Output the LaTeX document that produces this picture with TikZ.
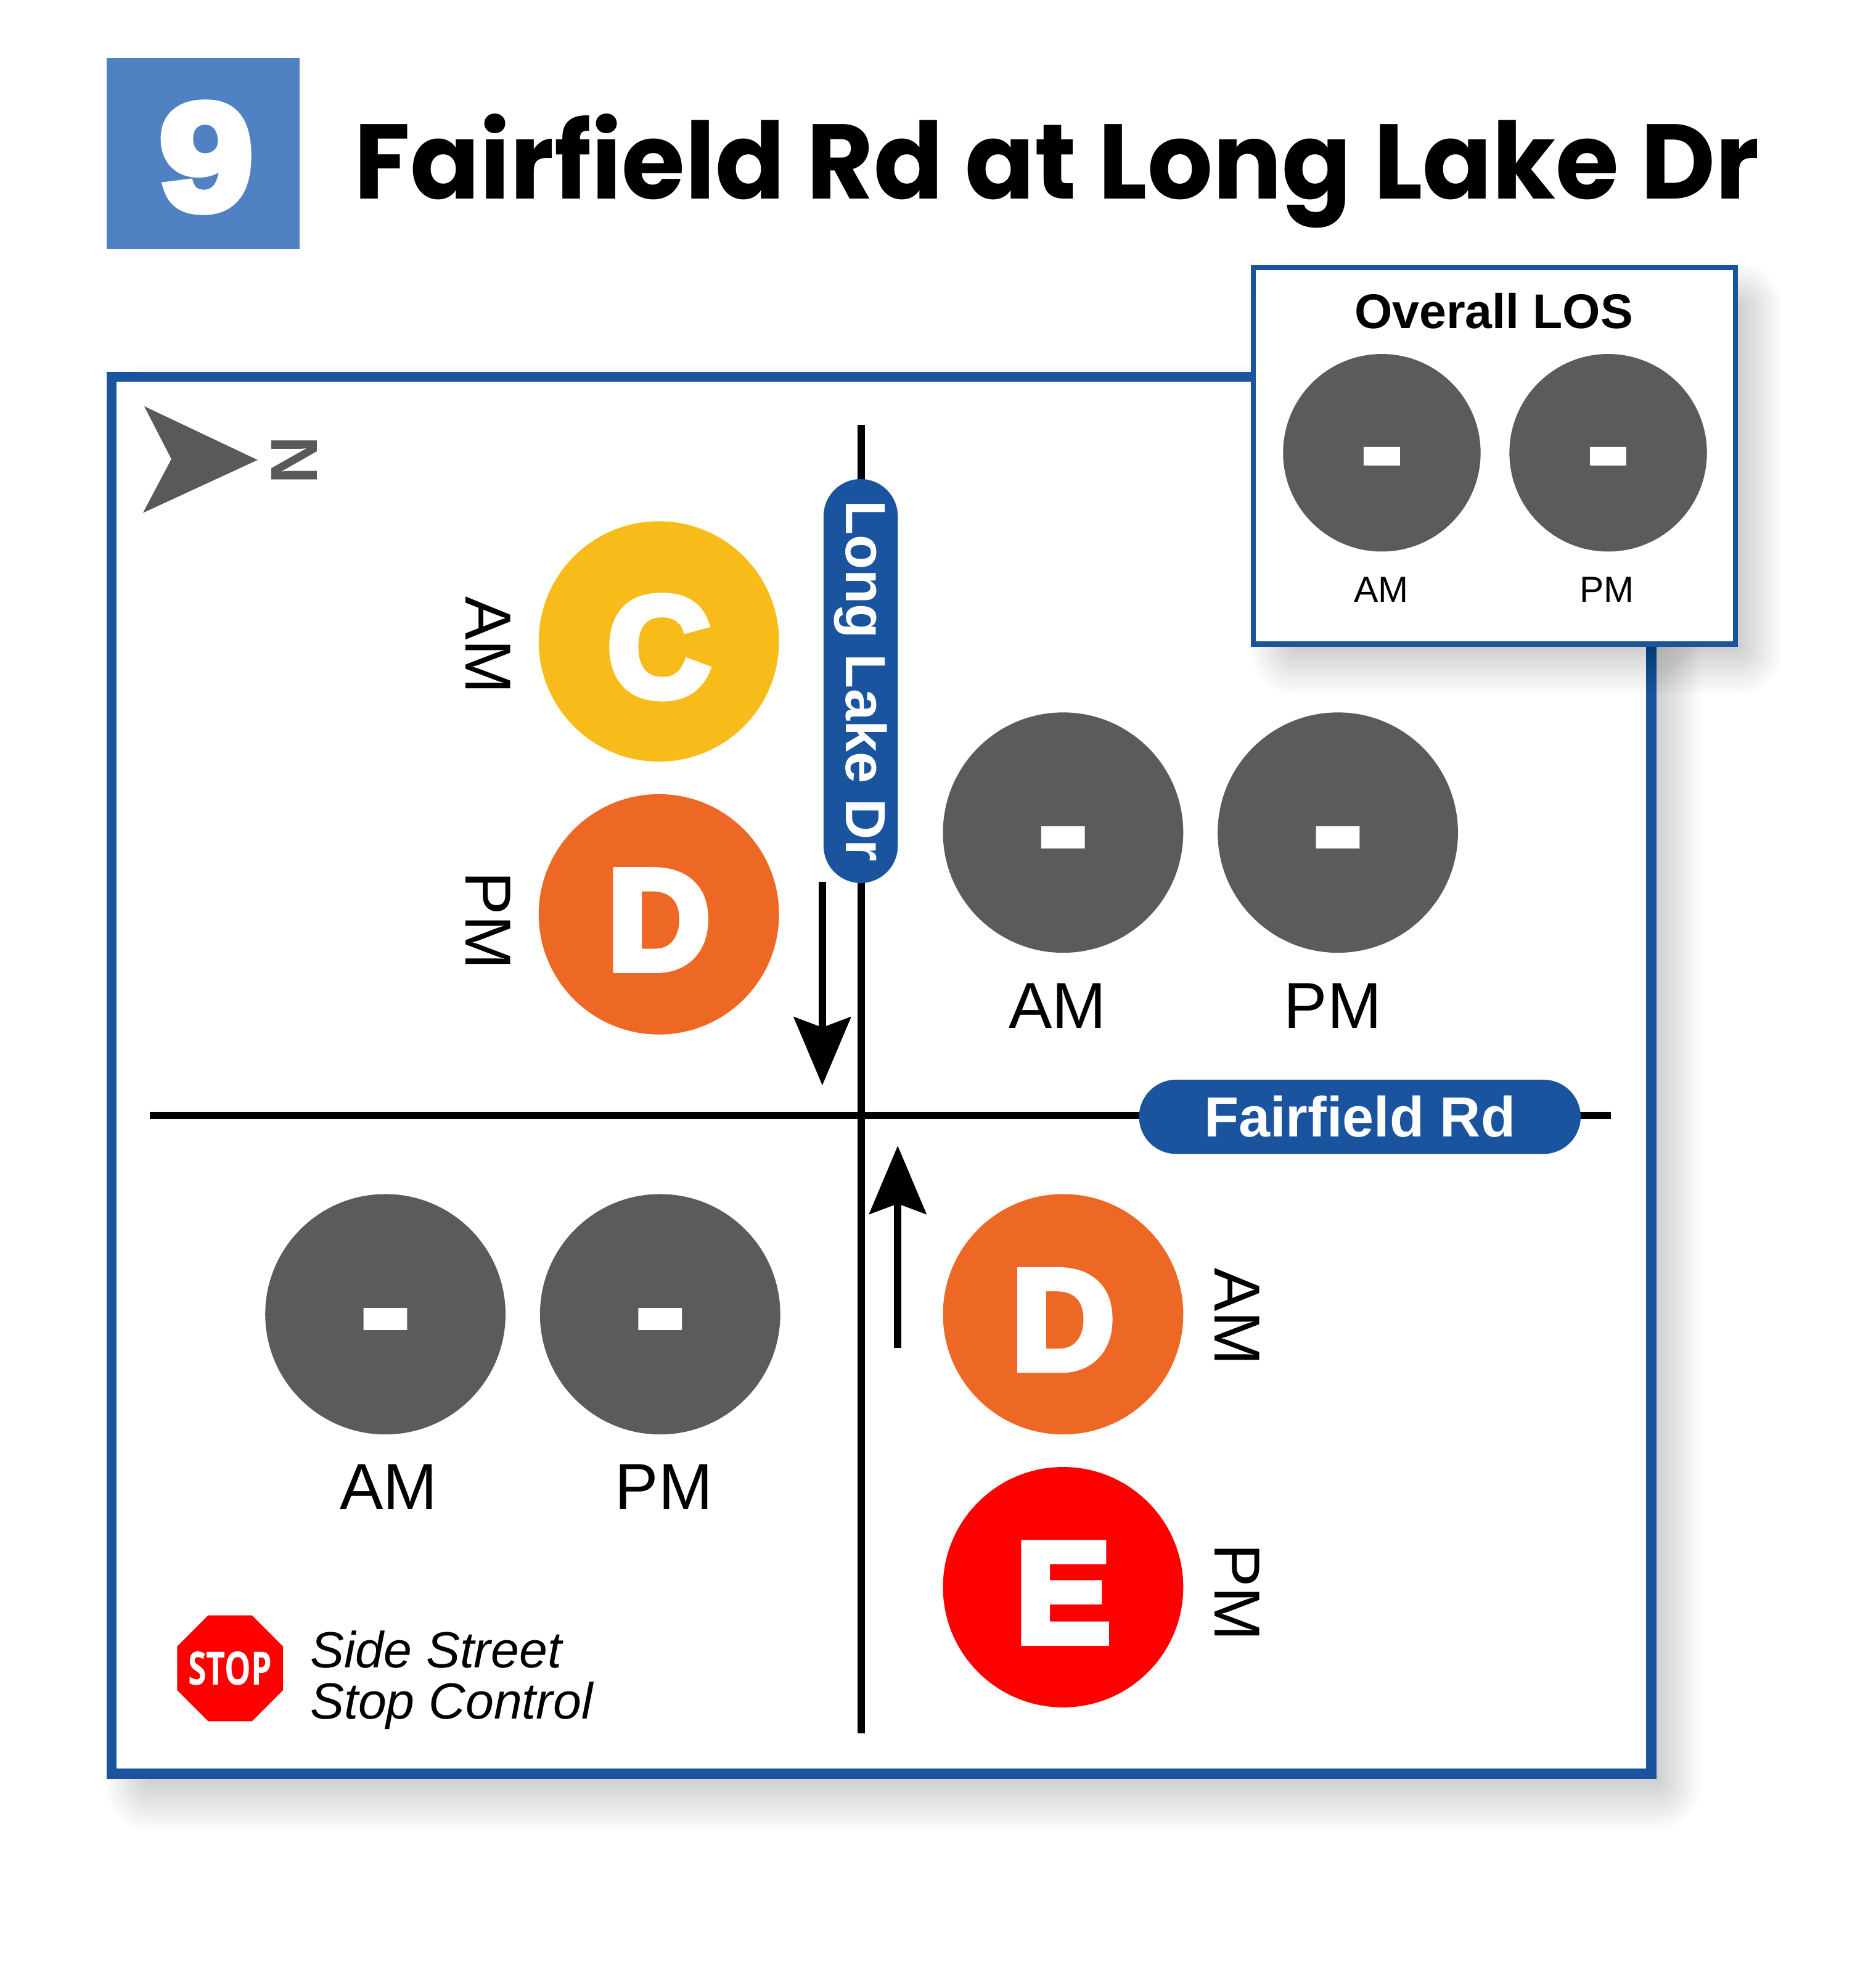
\documentclass[tikz,border=0pt]{standalone}
\usepackage{fontspec}
\usetikzlibrary{arrows.meta,shapes.geometric}
\setmainfont{Liberation Sans}
\newfontfamily\titlefont[FakeStretch=0.968]{Poppins}
\newfontfamily\gradefont[UprightFont=* Bold,FakeBold=6]{Liberation Sans}
\newfontfamily\numberfont[UprightFont=* Bold,FakeBold=6,FakeStretch=1.12]{Liberation Sans}
\newfontfamily\dashfont[UprightFont=* Bold,FakeBold=2]{Liberation Sans}
\newfontfamily\stopfont[FakeStretch=0.72]{Open Sans}
\newcommand{\fsz}[1]{\fontsize{#1}{#1}\selectfont}
\definecolor{roadblue}{HTML}{1A549F}
\definecolor{headblue}{HTML}{5082C3}
\definecolor{losgray}{HTML}{5C5B59}
\definecolor{loscyellow}{HTML}{F7BC19}
\definecolor{losorange}{HTML}{EE6825}
\definecolor{northgray}{HTML}{58595B}
\tikzset{
    grade/.style={circle, inner sep=0pt, minimum size=1.91cm, text=white, text height=24.6pt, text depth=0pt, font=\gradefont\fsz{32}},
    gradedash/.style={circle, inner sep=0pt, minimum size=1.91cm, fill=losgray, text=white, text height=20.8pt, text depth=0pt, font=\dashfont\fsz{36}},
    gradesmall/.style={circle, inner sep=0pt, minimum size=1.57cm, fill=losgray, text=white, text height=17.1pt, text depth=0pt, font=\dashfont\fsz{30}},
    period/.style={inner sep=0pt, font=\fsz{14.7}},
    periodside/.style={period, rotate=-90},
    periodsmall/.style={inner sep=0pt, font=\fsz{8.2}},
    road/.style={line width=0.6mm, black},
    roadname/.style={fill=roadblue, text=white, inner sep=0pt, font=\bfseries\fsz{12.8}, rounded corners=2.95mm, minimum height=0.59cm},
    travel/.style={line width=0.6mm, -{Stealth[length=15.4pt, width=12.8pt, inset=2.3pt]}},
    softshadow/.style={black, opacity=0.0075}
}
\begin{document}
\begin{tikzpicture}[x=0.01cm, y=-0.01cm]
    \useasboundingbox (0, 0) rectangle (1492, 1568);

    % heading
    \node[fill=headblue, minimum width=1.53cm, minimum height=1.52cm, inner sep=0pt] (number) at (161.5, 122) {};
    \node[inner sep=0pt, text=white, font=\numberfont\fsz{34}] (numbertext) at (164, 125) {9};
    \node[anchor=base west, inner sep=0pt, font=\titlefont\bfseries\fsz{24}] (title) at (281, 158)
        {Fairfield Rd at Long Lake Dr};

    % frame with its shadow
    \foreach \s in {1,...,24}
        \fill[softshadow, rounded corners=0.15mm*\s]
            ({120-1.5*\s}, {325-1.5*\s}) rectangle ({1317+1.5*\s}, {1414+1.75*\s});
    \node[draw=roadblue, fill=white, line width=0.8mm, minimum width=12.24cm, minimum height=11.10cm,
          inner sep=0pt] (frame) at (701, 855) {};

    % north arrow
    \fill[northgray] (114.7, 323) -- (204.9, 365.7) -- (113.7, 407.8) -- (136.3, 365) -- cycle;
    \node[rotate=-90, inner sep=0pt, text=northgray, font=\bfseries\fsz{15}] (north) at (234, 366) {N};

    % roads
    \coordinate (roadN) at (685, 338);
    \coordinate (roadS) at (685, 1378);
    \coordinate (roadW) at (119, 887);
    \coordinate (roadE) at (1281, 887);
    \draw[road] (roadN) -- (roadS);
    \draw[road] (roadW) -- (roadE);
    \node[roadname, minimum width=3.21cm, rotate=-90] (longlake) at (684.5, 541.5) {Long Lake Dr};
    \node[roadname, minimum width=3.51cm] (fairfield) at (1081.5, 888) {Fairfield Rd};

    % travel direction
    \coordinate (southA) at (654, 701);
    \coordinate (southB) at (654, 863);
    \coordinate (northA) at (714, 1072);
    \coordinate (northB) at (714, 911);
    \draw[travel] (southA) -- (southB);
    \draw[travel] (northA) -- (northB);

    % north leg
    \node[grade, fill=loscyellow] (northAM) at (524, 510) {C};
    \node[grade, fill=losorange] (northPM) at (524, 727) {D};
    \node[periodside] (labelNA) at (388, 513) {AM};
    \node[periodside] (labelNP) at (388, 732) {PM};

    % east leg
    \node[gradedash] (eastAM) at (845.5, 662) {-};
    \node[gradedash] (eastPM) at (1064, 662) {-};
    \node[period] (labelEA) at (841, 800) {AM};
    \node[period] (labelEP) at (1060, 800) {PM};

    % west leg
    \node[gradedash] (westAM) at (306.5, 1045) {-};
    \node[gradedash] (westPM) at (525, 1045) {-};
    \node[period] (labelWA) at (309, 1182) {AM};
    \node[period] (labelWP) at (528, 1182) {PM};

    % south leg
    \node[grade, fill=losorange] (southAM) at (845.5, 1045) {D};
    \node[grade, fill=red] (southPM) at (845.5, 1262) {E};
    \node[periodside] (labelSA) at (984, 1047) {AM};
    \node[periodside] (labelSP) at (984, 1266) {PM};

    % legend
    \node[regular polygon, regular polygon sides=8, fill=red, minimum size=0.91cm, inner sep=0pt,
          text=white, font=\stopfont\bfseries\fsz{10.4}] (stop) at (183, 1326.5) {\makebox[0pt]{STOP}};
    \node[anchor=west, align=left, inner sep=0pt, font=\itshape\fsz{11.5}] (legend) at (246, 1336)
        {Side Street\\Stop Control};

    % overall box with its shadow
    \foreach \s in {1,...,24}
        \fill[softshadow, rounded corners=0.15mm*\s]
            ({1030-1.5*\s}, {245-1.5*\s}) rectangle ({1382+1.5*\s}, {514+1.6*\s});
    \node[draw=roadblue, fill=white, line width=0.4mm, minimum width=3.83cm, minimum height=2.99cm,
          inner sep=0pt] (overall) at (1188.5, 362.5) {};
    \node[inner sep=0pt, font=\bfseries\fsz{11}] (overallname) at (1188, 247) {Overall LOS};
    \node[gradesmall] (overallAM) at (1099, 360) {-};
    \node[gradesmall] (overallPM) at (1279, 360) {-};
    \node[periodsmall] (labelOA) at (1098.5, 469) {AM};
    \node[periodsmall] (labelOP) at (1278, 469) {PM};

\end{tikzpicture}
\end{document}
